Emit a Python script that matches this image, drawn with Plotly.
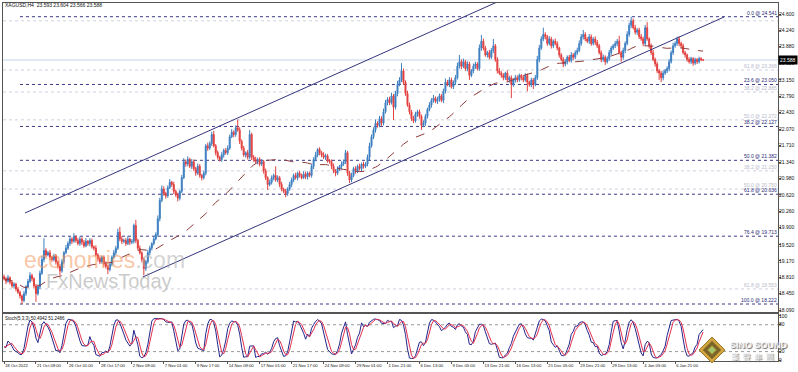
import pandas as pd
import plotly.graph_objects as go

# ---------------- data ----------------
closes = [
    18.78, 18.72, 18.80, 18.70, 18.62, 18.66, 18.55, 18.48, 18.40, 18.30, 18.45, 18.60, 18.72, 18.85, 18.78, 18.62,
    18.45, 18.60, 18.90, 19.20, 19.40, 19.30, 19.35, 19.25, 19.20, 19.28, 19.15, 19.05, 18.95, 19.15, 19.35, 19.45,
    19.55, 19.65, 19.60, 19.70, 19.62, 19.55, 19.65, 19.58, 19.50, 19.60, 19.55, 19.62, 19.48, 19.45, 19.30, 19.22,
    19.15, 19.25, 19.10, 19.05, 18.98, 19.10, 19.25, 19.35, 19.45, 19.80, 19.65, 19.60, 19.62, 19.55, 19.65, 19.58,
    19.60, 19.95, 19.62, 19.45, 19.35, 19.20, 19.00, 19.15, 19.35, 19.45, 19.55, 19.65, 19.75, 20.10, 20.50, 20.75,
    20.65, 20.60, 20.78, 20.90, 20.85, 20.70, 20.62, 20.55, 20.70, 21.00, 21.35, 21.30, 21.40, 21.25, 21.35, 21.20,
    21.10, 21.25, 21.05, 21.00, 21.10, 21.70, 21.65, 21.75, 21.95, 21.70, 21.55, 21.45, 21.40, 21.50, 21.60, 21.55,
    21.65, 21.90, 22.00, 21.95, 22.10, 22.05, 21.80, 21.65, 21.50, 21.55, 21.45, 21.95, 21.45, 21.40, 21.35, 21.40,
    21.30, 21.35, 21.15, 21.00, 20.85, 20.90, 21.00, 21.05, 20.95, 21.00, 20.85, 20.75, 20.70, 20.65, 20.75, 20.85,
    20.95, 21.05, 21.00, 21.10, 21.05, 21.00, 21.08, 21.02, 21.10, 21.05, 21.25, 21.40, 21.50, 21.62, 21.55, 21.50,
    21.45, 21.48, 21.38, 21.35, 21.25, 21.15, 21.10, 21.20, 21.25, 21.30, 21.35, 21.55, 21.10, 20.95, 21.05, 21.20,
    21.15, 21.25, 21.20, 21.30, 21.25, 21.30, 21.45, 21.70, 21.90, 22.05, 22.20, 22.15, 22.30, 22.20, 22.45, 22.65,
    22.72, 22.65, 22.80, 22.55, 22.85, 23.05, 23.15, 23.35, 23.10, 22.85, 22.60, 22.45, 22.30, 22.25, 22.40, 22.45,
    22.35, 22.15, 22.20, 22.35, 22.50, 22.60, 22.70, 22.75, 22.68, 22.72, 22.80, 22.70, 22.90, 23.10, 23.05, 23.15,
    23.00, 23.10, 23.20, 23.45, 23.55, 23.45, 23.55, 23.40, 23.50, 23.25, 23.35, 23.45, 23.50, 23.40, 23.85, 24.00,
    23.85, 23.70, 23.75, 23.65, 23.80, 23.90, 23.60, 23.35, 23.30, 23.25, 23.20, 23.30, 23.15, 23.20, 23.05, 23.15,
    23.20, 23.15, 23.25, 23.20, 23.15, 23.25, 23.10, 23.05, 23.15, 23.05, 23.20, 23.60, 23.85, 24.05, 24.15, 24.10,
    23.95, 24.05, 23.90, 24.00, 23.95, 23.85, 23.70, 23.60, 23.50, 23.55, 23.65, 23.58, 23.70, 23.65, 23.75, 23.80,
    23.95, 24.10, 24.15, 24.05, 24.00, 24.10, 23.95, 24.05, 23.98, 23.90, 23.75, 23.60, 23.65, 23.55, 23.62, 23.75,
    23.85, 23.90, 23.95, 24.00, 23.75, 23.65, 23.80, 23.95, 24.15, 24.35, 24.45, 24.30, 24.20, 24.25, 24.10, 24.05,
    23.95, 24.30, 24.05, 23.90, 23.75, 23.60, 23.50, 23.35, 23.30, 23.20, 23.30, 23.35, 23.40, 23.55, 23.75, 23.90,
    23.95, 24.05, 23.95, 23.90, 23.75, 23.70, 23.60, 23.55, 23.62, 23.52, 23.60, 23.55, 23.62, 23.593, 23.588,
]
first_open = 18.82

# wick lengths above / below the body, in cents
upper_wick = [
    5, 4, 6, 3, 5, 4, 3, 5, 4, 3, 6, 4, 5, 7, 4, 3,
    4, 5, 6, 8, 27, 5, 4, 6, 3, 5, 4, 3, 5, 6, 4, 7,
    5, 6, 4, 8, 3, 5, 6, 4, 5, 7, 3, 5, 4, 3, 6, 4,
    5, 3, 4, 6, 3, 5, 4, 6, 5, 8, 12, 6, 4, 5, 7, 3,
    5, 4, 12, 4, 6, 3, 5, 4, 6, 5, 3, 6, 5, 7, 6, 8,
    6, 4, 5, 7, 3, 6, 4, 5, 3, 6, 8, 5, 7, 4, 6, 5,
    4, 6, 5, 3, 5, 4, 7, 5, 6, 8, 4, 5, 3, 6, 4, 5,
    6, 5, 7, 4, 5, 18, 6, 4, 5, 3, 6, 10, 4, 5, 6, 4,
    5, 6, 4, 5, 3, 6, 5, 4, 20, 5, 4, 6, 3, 5, 4, 6,
    5, 4, 6, 3, 5, 4, 6, 5, 4, 3, 6, 5, 7, 3, 5, 4,
    6, 5, 4, 3, 5, 6, 4, 5, 3, 6, 5, 6, 4, 5, 6, 4,
    5, 4, 6, 3, 5, 4, 6, 7, 5, 6, 8, 4, 6, 5, 7, 6,
    5, 6, 7, 4, 6, 8, 6, 17, 5, 4, 6, 5, 4, 6, 5, 4,
    5, 4, 6, 5, 4, 6, 5, 7, 4, 6, 5, 4, 6, 8, 5, 6,
    5, 4, 6, 8, 15, 5, 7, 4, 6, 5, 4, 6, 5, 4, 8, 14,
    6, 5, 4, 6, 5, 15, 4, 5, 6, 4, 5, 3, 6, 4, 5, 4,
    6, 5, 4, 3, 6, 5, 4, 3, 5, 4, 6, 8, 7, 6, 15, 5,
    4, 6, 5, 4, 6, 5, 3, 4, 5, 6, 4, 5, 6, 4, 5, 6,
    7, 6, 10, 5, 4, 6, 5, 4, 6, 5, 4, 5, 6, 4, 5, 6,
    5, 4, 6, 5, 12, 4, 6, 5, 7, 6, 9, 5, 6, 4, 5, 6,
    5, 6, 12, 4, 5, 6, 4, 5, 4, 5, 6, 4, 5, 6, 5, 7,
    5, 5, 6, 4, 5, 4, 3, 5, 4, 3, 4, 3, 4, 3, 1.1,
]
lower_wick = [
    4, 6, 3, 5, 4, 6, 5, 4, 6, 8, 4, 5, 3, 4, 6, 5,
    18, 4, 5, 4, 6, 5, 3, 6, 5, 4, 6, 5, 10, 4, 5, 3,
    4, 5, 6, 3, 5, 4, 5, 6, 4, 3, 5, 6, 4, 5, 3, 6,
    5, 4, 6, 5, 10, 4, 5, 3, 6, 4, 5, 6, 4, 5, 3, 6,
    4, 5, 6, 5, 4, 6, 15, 5, 4, 6, 5, 4, 3, 5, 6, 4,
    5, 6, 4, 3, 5, 6, 4, 7, 5, 4, 3, 6, 5, 4, 6, 5,
    6, 4, 5, 6, 4, 5, 6, 4, 5, 3, 6, 5, 4, 5, 6, 4,
    5, 4, 3, 6, 5, 4, 6, 5, 4, 6, 5, 4, 6, 5, 4, 6,
    5, 4, 6, 5, 12, 4, 5, 6, 4, 5, 6, 5, 4, 8, 5, 4,
    6, 5, 4, 6, 5, 4, 3, 5, 6, 4, 5, 6, 4, 5, 6, 5,
    4, 6, 5, 4, 6, 5, 7, 4, 5, 6, 4, 5, 6, 7, 5, 4,
    6, 5, 4, 6, 5, 4, 5, 6, 4, 5, 6, 5, 4, 6, 5, 4,
    6, 5, 4, 28, 5, 6, 4, 5, 6, 5, 4, 6, 5, 5, 4, 6,
    5, 10, 4, 6, 5, 4, 6, 5, 4, 6, 5, 4, 6, 5, 4, 6,
    4, 5, 6, 4, 5, 6, 4, 5, 6, 10, 4, 5, 6, 4, 5, 6,
    5, 4, 6, 5, 4, 6, 5, 6, 4, 5, 6, 5, 4, 6, 30, 5,
    6, 5, 4, 6, 5, 4, 20, 5, 6, 10, 4, 5, 6, 4, 5, 6,
    5, 4, 6, 5, 4, 5, 6, 4, 7, 5, 6, 4, 5, 6, 4, 5,
    4, 5, 6, 5, 4, 6, 5, 4, 6, 5, 4, 6, 5, 7, 4, 5,
    6, 4, 5, 6, 4, 10, 5, 6, 4, 5, 6, 4, 5, 6, 5, 4,
    6, 5, 4, 6, 5, 4, 6, 5, 15, 10, 6, 4, 5, 6, 4, 5,
    4, 5, 6, 5, 4, 6, 5, 4, 5, 6, 4, 5, 4, 3, 2.2,
]

x_tick_labels = [
    "18 Oct 2022", "21 Oct 09:00", "26 Oct 01:00", "28 Oct 17:00", "2 Nov 09:00",
    "7 Nov 01:00", "9 Nov 17:00", "14 Nov 09:00", "17 Nov 01:00", "21 Nov 17:00",
    "24 Nov 09:00", "29 Nov 01:00", "1 Dec 21:00", "6 Dec 13:00", "9 Dec 05:00",
    "13 Dec 21:00", "16 Dec 13:00", "21 Dec 05:00", "23 Dec 21:00", "29 Dec 13:00",
    "4 Jan 05:00", "6 Jan 21:00",
]
bars_per_label = 16

price_ticks = [24.600, 24.240, 23.880, 23.520, 23.150, 22.790, 22.430, 22.070, 21.710,
               21.340, 20.980, 20.620, 20.260, 19.900, 19.520, 19.170, 18.810, 18.450, 18.090]
stoch_ticks = [100, 80, 20, 0]

fib_levels = ["0.0", "23.6", "38.2", "50.0", "61.8", "76.4", "100.0"]
fib_prices = [24.541, 23.050, 22.127, 21.382, 20.636, 19.713, 18.222]
fib_start_bar = 8

faint_levels = ["61.8", "38.2", "50.0", "38.2", "50.0", "61.8"]
faint_prices = [23.368, 22.885, 22.272, 21.150, 20.750, 18.553]
faint_extra_line = 24.450

channel_upper_x = [10.5, 260.0]
channel_upper_y = [20.223, 25.121]
channel_lower_x = [69.5, 360.5]
channel_lower_y = [18.816, 24.534]

last_price = 23.588
header_text = "XAGUSD,H4  23.593 23.604 23.566 23.588"
stoch_text = "Stoch(5,3,3) 50.4942 51.2486"
ma_period = 50

# ---------------- build OHLC ----------------
n = len(closes)
assert len(upper_wick) == n and len(lower_wick) == n, (n, len(upper_wick), len(lower_wick))
idx = list(range(n))
opens = [first_open] + closes[:-1]
highs = [max(o, c) + u / 100 for o, c, u in zip(opens, closes, upper_wick)]
lows = [min(o, c) - w / 100 for o, c, w in zip(opens, closes, lower_wick)]

df = pd.DataFrame({"o": opens, "h": highs, "l": lows, "c": closes})
ma = df.c.rolling(ma_period, min_periods=1).mean()
ll = df.l.rolling(5, min_periods=1).min()
hh = df.h.rolling(5, min_periods=1).max()
k = 100 * (df.c - ll).rolling(3, min_periods=1).sum() / (hh - ll).rolling(3, min_periods=1).sum()
d = k.rolling(3, min_periods=1).mean()

# ---------------- geometry ----------------
W, H = 798, 372
ML, MR, MT, MB = 3, 20, 3, 11
PW, PH = W - ML - MR, H - MT - MB
X_RANGE = [-0.5, 387.5]
Y_RANGE = [18.046, 24.842]


def px(xp):
    return (xp - ML) / PW


def py(yp):
    return (H - MB - yp) / PH


FONT = "Liberation Sans"
UP, DOWN = "#3d7fc1", "#e2403f"
NAVY = "#34347e"

fig = go.Figure()

fig.add_trace(go.Candlestick(
    x=idx, open=opens, high=highs, low=lows, close=closes,
    increasing=dict(line=dict(color=UP, width=1), fillcolor=UP),
    decreasing=dict(line=dict(color=DOWN, width=1), fillcolor=DOWN),
    whiskerwidth=0, hoverinfo="skip", xaxis="x", yaxis="y",
))
fig.add_trace(go.Scatter(x=idx, y=ma, mode="lines", line=dict(color="#8e3b3b", width=1, dash="dash"),
                         hoverinfo="skip", xaxis="x", yaxis="y"))
fig.add_trace(go.Scatter(x=channel_upper_x, y=channel_upper_y, mode="lines",
                         line=dict(color=NAVY, width=1), hoverinfo="skip", xaxis="x", yaxis="y"))
fig.add_trace(go.Scatter(x=channel_lower_x, y=channel_lower_y, mode="lines",
                         line=dict(color=NAVY, width=1), hoverinfo="skip", xaxis="x", yaxis="y"))
fig.add_trace(go.Scatter(x=idx, y=k, mode="lines", line=dict(color="#25258a", width=1),
                         hoverinfo="skip", xaxis="x2", yaxis="y2"))
fig.add_trace(go.Scatter(x=idx, y=d, mode="lines", line=dict(color="#e4304e", width=1),
                         hoverinfo="skip", xaxis="x2", yaxis="y2"))

shapes = []
annotations = []

# faint fibonacci set
for lvl, p in zip(faint_levels, faint_prices):
    shapes.append(dict(type="line", xref="x", yref="y", x0=X_RANGE[0], x1=X_RANGE[1], y0=p, y1=p,
                       line=dict(color="#cfd0de", width=1, dash="dot"), layer="below"))
    annotations.append(dict(xref="paper", yref="y", x=1.0, y=p, xanchor="right", yanchor="bottom",
                            text=f"{lvl} @ {p:.3f}", showarrow=False, borderpad=0,
                            font=dict(family=FONT, size=5, color="#b9bacb")))
shapes.append(dict(type="line", xref="x", yref="y", x0=X_RANGE[0], x1=X_RANGE[1],
                   y0=faint_extra_line, y1=faint_extra_line,
                   line=dict(color="#cfd0de", width=1, dash="dot"), layer="below"))

# main fibonacci set
for lvl, p in zip(fib_levels, fib_prices):
    shapes.append(dict(type="line", xref="x", yref="y", x0=fib_start_bar, x1=X_RANGE[1], y0=p, y1=p,
                       line=dict(color="#3a3a86", width=1, dash="dot"), layer="below"))
    annotations.append(dict(xref="paper", yref="y", x=1.0, y=p, xanchor="right", yanchor="bottom",
                            text=f"{lvl} @ {p:.3f}", showarrow=False, borderpad=0,
                            font=dict(family=FONT, size=5, color="#2c2c78")))

# current price line
shapes.append(dict(type="line", xref="x", yref="y", x0=X_RANGE[0], x1=X_RANGE[1], y0=last_price, y1=last_price,
                   line=dict(color="#c2d4e6", width=1), layer="below"))

# stochastic levels
for lv in (80, 20):
    shapes.append(dict(type="line", xref="x2", yref="y2", x0=X_RANGE[0], x1=X_RANGE[1], y0=lv, y1=lv,
                       line=dict(color="#9a9a9a", width=1, dash="dot"), layer="below"))

# logo diamond
cx, cy = 712, 350
for half, col in ((13, "#d2a441"), (9, "#7a6428"), (4.5, "#a6c46a")):
    path = (f"M {px(cx - half)} {py(cy)} L {px(cx)} {py(cy - half)} "
            f"L {px(cx + half)} {py(cy)} L {px(cx)} {py(cy + half)} Z")
    shapes.append(dict(type="path", xref="paper", yref="paper", path=path,
                       fillcolor=col, line=dict(color="#9c7a2a", width=1), layer="above"))

# header / indicator labels
annotations.append(dict(xref="paper", yref="paper", x=px(4), y=py(5), xanchor="left", yanchor="middle",
                        text=header_text, showarrow=False, borderpad=0,
                        font=dict(family=FONT, size=5, color="#111111")))
annotations.append(dict(xref="paper", yref="paper", x=px(4), y=py(318), xanchor="left", yanchor="middle",
                        text=stoch_text, showarrow=False, borderpad=0,
                        font=dict(family=FONT, size=4.5, color="#111111")))
# price box
annotations.append(dict(xref="paper", yref="y", x=1.0, y=last_price, xanchor="left", yanchor="middle",
                        text=f"{last_price:.3f}", showarrow=False, bgcolor="#000000", borderpad=1,
                        font=dict(family=FONT, size=5, color="#ffffff")))
# watermarks
annotations.append(dict(xref="paper", yref="paper", x=px(22), y=py(260), xanchor="left", yanchor="middle",
                        text='<span style="color:rgba(244,150,90,0.55)">economies</span>'
                             '<span style="color:rgba(175,175,175,0.55)">.com</span>',
                        showarrow=False, font=dict(family=FONT, size=23)))
annotations.append(dict(xref="paper", yref="paper", x=px(44), y=py(281), xanchor="left", yanchor="middle",
                        text="FxNewsToday", showarrow=False,
                        font=dict(family=FONT, size=20, color="rgba(150,150,150,0.5)")))
# logo text
annotations.append(dict(xref="paper", yref="paper", x=px(729), y=py(345), xanchor="left", yanchor="middle",
                        text="<b>SINO SOUND</b>", showarrow=False, borderpad=0,
                        font=dict(family=FONT, size=9, color="#f4f4f4", shadow="1px 1px 1px #666")))
annotations.append(dict(xref="paper", yref="paper", x=px(730), y=py(356), xanchor="left", yanchor="middle",
                        text="漢&nbsp;&nbsp;聲&nbsp;&nbsp;集&nbsp;&nbsp;團", showarrow=False, borderpad=0,
                        font=dict(family="Noto Sans CJK TC", size=8, color="#f4f4f4", shadow="1px 1px 1px #666")))

main_bottom = py(312)
stoch_top = py(314)

fig.update_layout(
    width=W, height=H, margin=dict(l=ML, r=MR, t=MT, b=MB),
    paper_bgcolor="white", plot_bgcolor="white", showlegend=False,
    shapes=shapes, annotations=annotations,
    xaxis=dict(domain=[0, 1], anchor="y", range=X_RANGE, showticklabels=False, ticks="",
               showgrid=False, zeroline=False, showline=True, mirror=True, linecolor="#555555",
               rangeslider=dict(visible=False), fixedrange=True),
    yaxis=dict(domain=[main_bottom, 1], anchor="x", range=Y_RANGE, side="right",
               tickvals=price_ticks, ticktext=[f"{v:.3f}" for v in price_ticks],
               ticks="outside", ticklen=2, tickcolor="#555555", ticklabelstandoff=-3,
               tickfont=dict(family=FONT, size=5, color="#111111"),
               showgrid=False, zeroline=False, showline=True, mirror=True, linecolor="#555555"),
    xaxis2=dict(domain=[0, 1], anchor="y2", range=X_RANGE, matches="x",
                tickvals=[i * bars_per_label for i in range(len(x_tick_labels))], ticktext=x_tick_labels,
                ticks="outside", ticklen=2, tickcolor="#555555", ticklabelposition="outside right",
                tickangle=0, tickfont=dict(family=FONT, size=4.2, color="#111111"),
                showgrid=False, zeroline=False, showline=True, mirror=True, linecolor="#555555"),
    yaxis2=dict(domain=[0, stoch_top], anchor="x2", range=[-1, 104], side="right",
                tickvals=stoch_ticks, ticktext=[str(v) for v in stoch_ticks],
                ticks="outside", ticklen=2, tickcolor="#555555", ticklabelstandoff=-3,
                tickfont=dict(family=FONT, size=5, color="#111111"),
                showgrid=False, zeroline=False, showline=True, mirror=True, linecolor="#555555"),
)

fig.write_html("out.html", config={"displayModeBar": False, "staticPlot": True},
               post_script="document.body.style.margin='0px';document.body.style.overflow='hidden';")
